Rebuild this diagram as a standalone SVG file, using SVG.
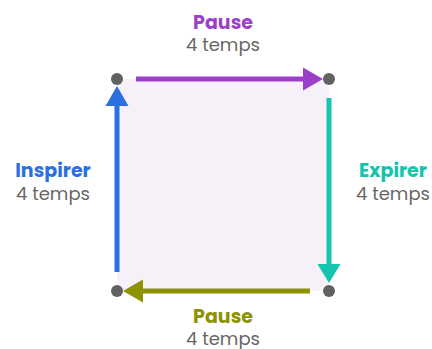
<svg xmlns="http://www.w3.org/2000/svg" width="432" height="349" viewBox="0 0 432 349">
<style>
.t{font-family:"Poppins","Inter","Liberation Sans",sans-serif;text-anchor:middle}
.h{font-weight:700;font-size:19px}
.s{font-weight:400;font-size:18px;fill:#666666}
.dot{fill:#616161}
.ln{stroke-width:5;fill:none}
</style>
<rect x="117" y="79" width="212" height="212" rx="10" fill="#f6f0f9"/>
<g id="connectors">
<g id="top-arrow"><line class="ln" x1="136" y1="79" x2="304" y2="79" stroke="#9c3fc8"/><polygon points="303,67.5 323,79 303,90.5" fill="#9c3fc8"/></g>
<g id="right-arrow"><line class="ln" x1="329" y1="98" x2="329" y2="265" stroke="#13c4ae"/><polygon points="317.5,264 340.5,264 329,283" fill="#13c4ae"/></g>
<g id="bottom-arrow"><line class="ln" x1="310" y1="291" x2="142" y2="291" stroke="#8c9200"/><polygon points="143,279.5 143,302.5 123,291" fill="#8c9200"/></g>
<g id="left-arrow"><line class="ln" x1="117" y1="272" x2="117" y2="105" stroke="#2b6fe0"/><polygon points="105.5,106 128.5,106 117,86" fill="#2b6fe0"/></g>
</g>
<g id="node-tl"><circle class="dot" cx="117" cy="79" r="6"/></g>
<g id="node-tr"><circle class="dot" cx="329" cy="79" r="6"/></g>
<g id="node-br"><circle class="dot" cx="329" cy="291" r="6"/></g>
<g id="node-bl"><circle class="dot" cx="117" cy="291" r="6"/></g>
<g id="label-top"><text class="t h" x="223" y="29" fill="#9c3fc8">Pause</text><text class="t s" x="223" y="51">4 temps</text></g>
<g id="label-left"><text class="t h" x="53" y="177" fill="#2b6fe0">Inspirer</text><text class="t s" x="53" y="200">4 temps</text></g>
<g id="label-right"><text class="t h" x="393" y="177" fill="#13c4ae">Expirer</text><text class="t s" x="393" y="200">4 temps</text></g>
<g id="label-bottom"><text class="t h" x="223" y="323" fill="#8c9200">Pause</text><text class="t s" x="223" y="345">4 temps</text></g>
</svg>
